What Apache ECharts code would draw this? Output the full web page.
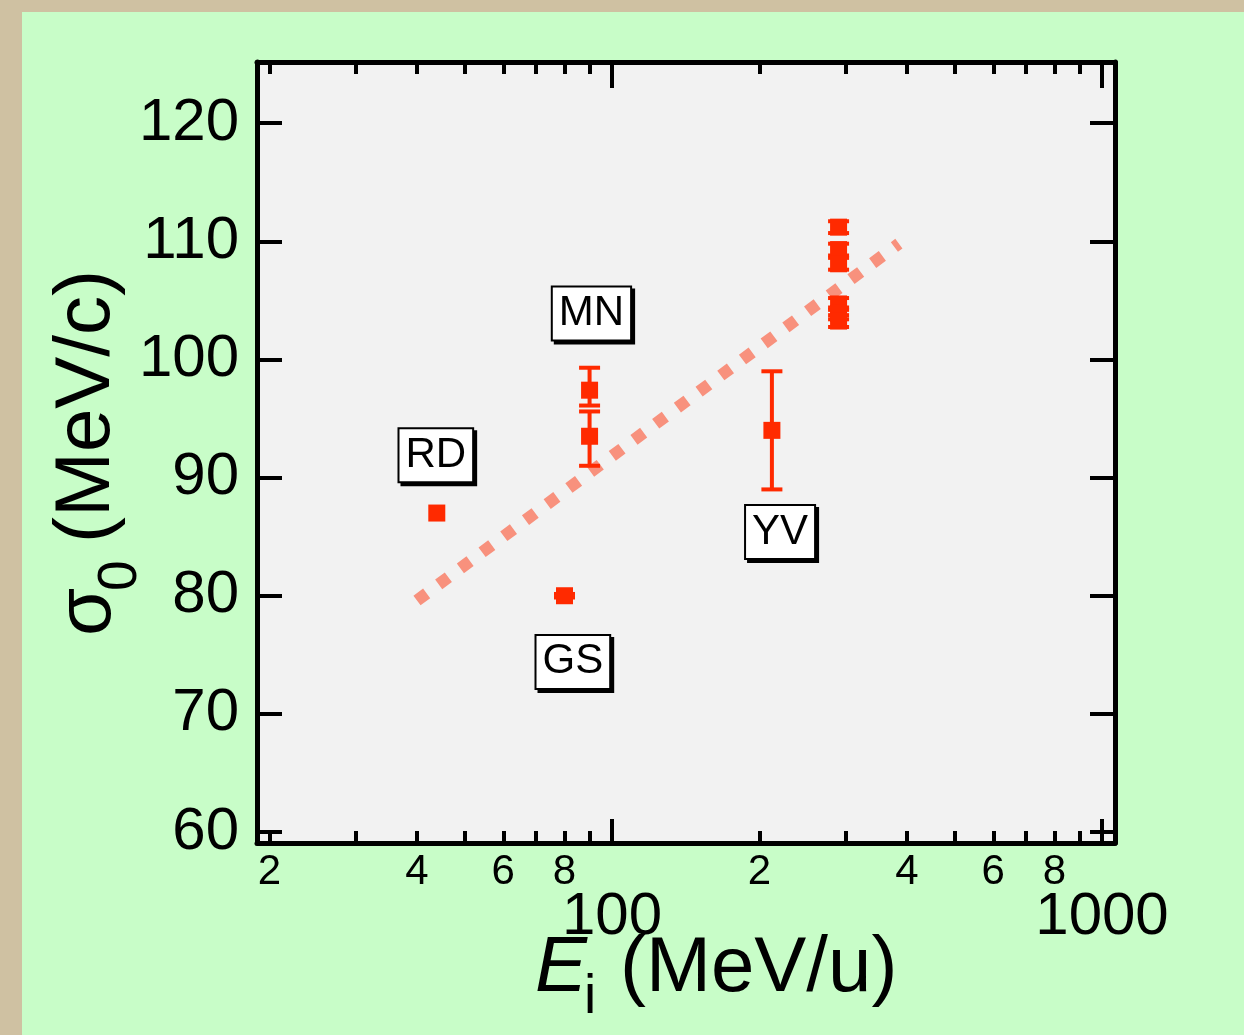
<!DOCTYPE html>
<html>
<head>
<meta charset="utf-8">
<script src="https://cdn.jsdelivr.net/npm/echarts@6/dist/echarts.min.js"></script>
<style>
html,body{margin:0;padding:0;background:#cfc1a2;}
#chart{width:1244px;height:1035px;}
</style>
</head>
<body>
<div id="chart"></div>
<script>
// ---- data ----
const pointE      = [43.9, 80, 90, 90, 212, 290, 290, 290, 290, 290, 290];
const pointSigma  = [87.0, 80.0, 97.4, 93.5, 94.0, 111.2, 109.3, 108.1, 104.7, 103.9, 103.25];
const errLow      = [null, 79.85, 96.1, 91.0, 89.0, 110.7, 108.8, 107.6, 104.2, 103.4, 102.75];
const errHigh     = [null, 80.15, 99.3, 95.6, 99.0, 111.7, 109.8, 108.6, 105.2, 104.4, 103.75];

const labelNames  = ['RD', 'MN', 'GS', 'YV'];
const labelE      = [43.7, 90.8, 83.2, 220.3];
const labelSigma  = [91.9, 103.9, 74.4, 85.4];

const fitE        = [40, 385];
const fitSigma    = [79.6, 109.8];

const xMinorTicks  = [20, 30, 40, 50, 60, 70, 80, 90, 200, 300, 400, 500, 600, 700, 800, 900];
const xMinorLabels = [20, 40, 60, 80, 200, 400, 600, 800];
const xMajorTicks  = [100, 1000];
const yTicks       = [60, 70, 80, 90, 100, 110, 120];

const xRange = [18.86, 1063];
const yRange = [59.07, 125.18];

// ---- chart ----
const FONT = '"Liberation Sans", Arial, Helvetica, sans-serif';
const RED = '#ff2a00';
const chart = echarts.init(document.getElementById('chart'), null, {renderer: 'canvas'});

function xAxisBase(position) {
  return {
    type: 'log', logBase: 10, min: xRange[0], max: xRange[1], position: position,
    axisLine: {show: false, lineStyle: {color: '#000', width: 5}},
    splitLine: {show: false}, minorTick: {show: false},
    axisTick: {show: true, inside: true, length: 12, lineStyle: {color: '#000', width: 4}},
    axisLabel: {show: false}
  };
}
function yAxisBase(position) {
  return {
    type: 'value', min: yRange[0], max: yRange[1], position: position,
    axisLine: {show: true, lineStyle: {color: '#000', width: 5}},
    splitLine: {show: false},
    axisTick: {show: true, inside: true, length: 25, customValues: yTicks, lineStyle: {color: '#000', width: 4}},
    axisLabel: {show: false}
  };
}

const xa0 = xAxisBase('bottom');
xa0.axisLine.show = true;
xa0.axisTick.customValues = xMinorTicks;
xa0.axisLabel = {show: true, customValues: xMinorLabels, formatter: v => String(Math.round(v)).charAt(0),
  fontSize: 42, fontFamily: FONT, color: '#000', margin: 8};
const xa1 = xAxisBase('bottom');
xa1.axisTick.customValues = xMajorTicks; xa1.axisTick.length = 24;
xa1.axisLabel = {show: true, customValues: xMajorTicks, formatter: v => String(Math.round(v)),
  fontSize: 60, fontFamily: FONT, color: '#000', margin: 44};
const xa2 = xAxisBase('top');
xa2.axisLine.show = true;
xa2.axisTick.customValues = xMinorTicks;
const xa3 = xAxisBase('top');
xa3.axisTick.customValues = xMajorTicks; xa3.axisTick.length = 26;

const ya0 = yAxisBase('left');
ya0.axisLabel = {show: true, customValues: yTicks, fontSize: 60, fontFamily: FONT, color: '#000', margin: 18, padding: [0, 0, 8, 0]};
const ya1 = yAxisBase('right');

const pts = pointE.map((e, i) => [e, pointSigma[i]]);
const errs = [];
pointE.forEach((e, i) => { if (errLow[i] != null) errs.push([e, errLow[i], errHigh[i]]); });
const labels = labelNames.map((n, i) => ({name: n, value: [labelE[i], labelSigma[i]]}));
const fit = fitE.map((e, i) => [e, fitSigma[i]]);

chart.setOption({
  backgroundColor: '#cfc1a2',
  animation: false,
  graphic: [
    {type: 'rect', z: -100, silent: true, shape: {x: 22, y: 12, width: 1230, height: 1030}, style: {fill: '#c8fdc8'}},
    // x-axis title
    {type: 'text', z: 10, style: {text: 'E', x: 535, y: 969, font: 'italic 78px ' + FONT, fill: '#000', align: 'left', verticalAlign: 'middle'}},
    {type: 'text', z: 10, style: {text: 'i', x: 584, y: 998, font: '55px ' + FONT, fill: '#000', align: 'left', verticalAlign: 'middle'}},
    {type: 'text', z: 10, style: {text: '(MeV/u)', x: 620, y: 969, font: '78px ' + FONT, fill: '#000', align: 'left', verticalAlign: 'middle'}},
    // y-axis title (rotated)
    {type: 'group', x: 94, y: 636, rotation: Math.PI / 2, z: 10, children: [
      {type: 'text', style: {text: 'σ', x: 0, y: -6, font: '78px ' + FONT, fill: '#000', align: 'left', verticalAlign: 'middle'}},
      {type: 'text', style: {text: '0', x: 45, y: 27, font: '55px ' + FONT, fill: '#000', align: 'left', verticalAlign: 'middle'}},
      {type: 'text', style: {text: '(MeV/c)', x: 93, y: -7, font: '78px ' + FONT, fill: '#000', align: 'left', verticalAlign: 'middle'}}
    ]}
  ],
  grid: {left: 257, top: 62, width: 858, height: 781, show: true, backgroundColor: '#f2f2f2', borderWidth: 0, containLabel: false},
  xAxis: [xa0, xa1, xa2, xa3],
  yAxis: [ya0, ya1],
  series: [
    {type: 'line', xAxisIndex: 0, yAxisIndex: 0, data: fit, symbol: 'none', z: 2, silent: true,
      lineStyle: {color: '#f8917d', width: 12, type: [12, 15], cap: 'butt'}},
    {type: 'custom', xAxisIndex: 0, yAxisIndex: 0, data: errs, z: 3, silent: true,
      renderItem: function (params, api) {
        const top = api.coord([api.value(0), api.value(2)]);
        const bot = api.coord([api.value(0), api.value(1)]);
        const st = {stroke: RED, lineWidth: 4};
        const hw = 10.5;
        return {type: 'group', children: [
          {type: 'line', shape: {x1: top[0], y1: top[1], x2: bot[0], y2: bot[1]}, style: st},
          {type: 'line', shape: {x1: top[0] - hw, y1: top[1], x2: top[0] + hw, y2: top[1]}, style: st},
          {type: 'line', shape: {x1: bot[0] - hw, y1: bot[1], x2: bot[0] + hw, y2: bot[1]}, style: st}
        ]};
      }},
    {type: 'scatter', xAxisIndex: 0, yAxisIndex: 0, data: pts, symbol: 'rect', symbolSize: 17, z: 4,
      itemStyle: {color: RED, opacity: 1}},
    {type: 'scatter', xAxisIndex: 0, yAxisIndex: 0, data: labels, symbolSize: 1, z: 5,
      itemStyle: {color: 'rgba(0,0,0,0)', opacity: 1},
      label: {show: true, position: 'inside', formatter: '{b}', fontSize: 42, fontFamily: FONT, color: '#000', opacity: 1,
        backgroundColor: '#fff', borderColor: '#000', borderWidth: 2, padding: [3, 6, 3, 6], lineHeight: 46,
        shadowColor: '#000', shadowOffsetX: 3, shadowOffsetY: 3, shadowBlur: 0}}
  ]
});
</script>
</body>
</html>
